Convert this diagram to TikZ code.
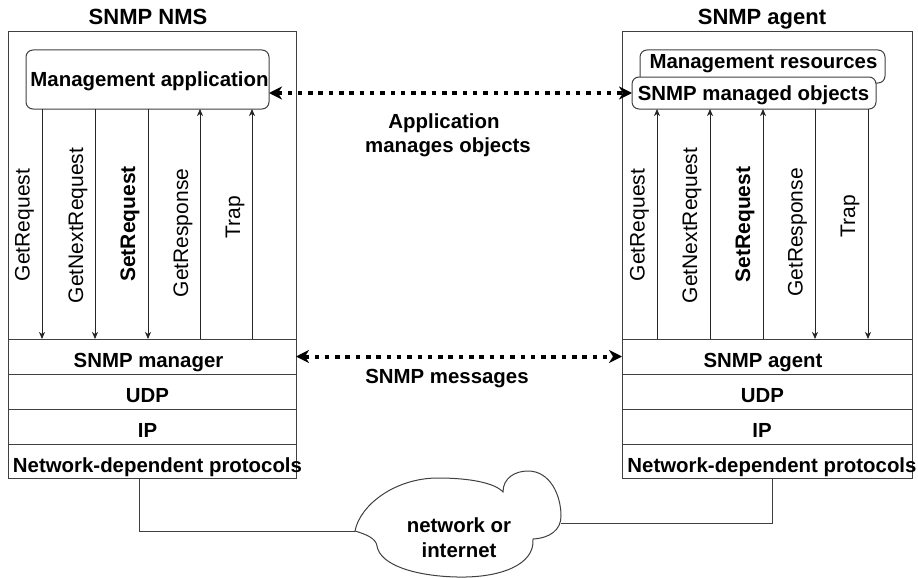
\documentclass[tikz,border=0pt]{standalone}
\usepackage{fontspec}
\setmainfont{Liberation Sans}
\usetikzlibrary{arrows.meta}
\begin{document}
\begin{tikzpicture}[x=1pt,y=-1pt,
  frame/.style={draw=black!75, line width=1pt},
  boxnode/.style={frame, rectangle, inner sep=0pt, outer sep=0pt, anchor=north west},
  rbox/.style={frame, rounded corners=7pt, fill=white, inner sep=0pt, outer sep=0pt, anchor=north west},
  lbl/.style={font=\fontsize{20.4}{25}\bfseries\selectfont, inner sep=0pt, anchor=base},
  ttl/.style={font=\fontsize{22}{26}\bfseries\selectfont, inner sep=0pt, anchor=base},
  vlbl/.style={font=\fontsize{21}{25}\selectfont, inner sep=0pt, rotate=90},
  sig/.style={draw=black!85, line width=0.9pt, -{Stealth[length=7pt,width=6pt,inset=2pt]}},
  dots/.style={line width=4pt, dash pattern=on 4.5pt off 5.8pt,
    {Stealth[length=13pt,width=13pt,inset=4pt]}-{Stealth[length=13pt,width=13pt,inset=4pt]}},
  conn/.style={draw=black!75, line width=1pt}
]
\useasboundingbox (0,0) rectangle (918,578);

% titles
\node[ttl] (t1) at (148,25) {SNMP NMS};
\node[ttl] (t2) at (762,25) {SNMP agent};

% left stack
\node[boxnode, minimum width=288pt, minimum height=446pt] (nms) at (8,32) {};
\node[boxnode, minimum width=288pt, minimum height=35pt] (lmgr) at (8,339) {};
\node[boxnode, minimum width=288pt, minimum height=35pt] (ludp) at (8,374) {};
\node[boxnode, minimum width=288pt, minimum height=35pt] (lip) at (8,409) {};
\node[boxnode, minimum width=288pt, minimum height=34pt] (lndp) at (8,444) {};
\node[lbl] (tlmgr) at (148.5,367) {SNMP manager};
\node[lbl] (tludp) at (147.5,402) {UDP};
\node[lbl] (tlip) at (147.5,437) {IP};
\node[lbl] (tlndp) at (157.5,472) {Network-dependent protocols};

\node[rbox, minimum width=243pt, minimum height=59pt] (mapp) at (26,50) {};
\node[lbl] (tmapp) at (149.5,86) {Management application};

% right stack
\node[boxnode, minimum width=290pt, minimum height=446pt] (agt) at (622,32) {};
\node[boxnode, minimum width=290pt, minimum height=35pt] (ragt) at (622,339) {};
\node[boxnode, minimum width=290pt, minimum height=35pt] (rudp) at (622,374) {};
\node[boxnode, minimum width=290pt, minimum height=35pt] (rip) at (622,409) {};
\node[boxnode, minimum width=290pt, minimum height=34pt] (rndp) at (622,444) {};
\node[lbl] (tragt) at (763,367) {SNMP agent};
\node[lbl] (trudp) at (762.5,402) {UDP};
\node[lbl] (trip) at (762,437) {IP};
\node[lbl] (trndp) at (772,472) {Network-dependent protocols};

\node[rbox, minimum width=245pt, minimum height=33pt] (mres) at (640,50) {};
\node[lbl] (tmres) at (763.5,68) {Management resources};
\node[rbox, minimum width=244pt, minimum height=32pt] (mobj) at (632,77) {};
\node[lbl] (tmobj) at (753.5,100) {SNMP managed objects};

% arrow columns
\coordinate (lx1) at (42,0);
\coordinate (lx2) at (95,0);
\coordinate (lx3) at (148,0);
\coordinate (lx4) at (200,0);
\coordinate (lx5) at (252,0);
\coordinate (rx1) at (657,0);
\coordinate (rx2) at (710,0);
\coordinate (rx3) at (763,0);
\coordinate (rx4) at (815,0);
\coordinate (rx5) at (868,0);

\draw[sig] (mapp.south -| lx1) -- (lmgr.north -| lx1);
\draw[sig] (mapp.south -| lx2) -- (lmgr.north -| lx2);
\draw[sig] (mapp.south -| lx3) -- (lmgr.north -| lx3);
\draw[sig] (lmgr.north -| lx4) -- (mapp.south -| lx4);
\draw[sig] (lmgr.north -| lx5) -- (mapp.south -| lx5);

\draw[sig] (ragt.north -| rx1) -- (mobj.south -| rx1);
\draw[sig] (ragt.north -| rx2) -- (mobj.south -| rx2);
\draw[sig] (ragt.north -| rx3) -- (mobj.south -| rx3);
\draw[sig] (mobj.south -| rx4) -- (ragt.north -| rx4);
\draw[sig] (mobj.south -| rx5) -- (ragt.north -| rx5);

% vertical labels
\node[vlbl] (lv1) at (24.5,225) {GetRequest};
\node[vlbl] (lv2) at (78,225.5) {GetNextRequest};
\node[vlbl, font=\fontsize{21}{25}\bfseries\selectfont] (lv3) at (130,224) {SetRequest};
\node[vlbl] (lv4) at (183,233) {GetResponse};
\node[vlbl] (lv5) at (235,217) {Trap};

\node[vlbl] (rv1) at (639.5,225) {GetRequest};
\node[vlbl] (rv2) at (692,225.5) {GetNextRequest};
\node[vlbl, font=\fontsize{21}{25}\bfseries\selectfont] (rv3) at (745,224.5) {SetRequest};
\node[vlbl] (rv4) at (797.5,232.5) {GetResponse};
\node[vlbl] (rv5) at (850,216) {Trap};

% dotted peer arrows
\draw[dots] (mapp.east |- mobj.west) -- (mobj.west);
\draw[dots] (lmgr.east) -- (ragt.west);
\node[lbl] (app1) at (444,128) {Application};
\node[lbl] (app2) at (448,152) {manages objects};
\node[lbl] (msg) at (447,383) {SNMP messages};

% cloud
\draw[frame, fill=white] (355,531) .. controls (360,505) and (395,478) .. (438,478)
  .. controls (470,478) and (495,483) .. (503,492)
  .. controls (503,478) and (515,471) .. (528,471)
  .. controls (550,471) and (561,495) .. (561,516)
  .. controls (561,530) and (550,538) .. (533,539)
  .. controls (535,565) and (500,578) .. (457,577)
  .. controls (415,576) and (380,565) .. (377,546)
  .. controls (376,538) and (365,534) .. (355,531) -- cycle;
\node[lbl] (net1) at (459,532) {network or};
\node[lbl] (net2) at (459,557) {internet};

\coordinate (lc) at (139,0);
\coordinate (cl) at (355,531);
\coordinate (rc) at (772,0);
\coordinate (cr) at (561,523);
\draw[conn] (lndp.south -| lc) |- (cl);
\draw[conn] (rndp.south -| rc) |- (cr);
\end{tikzpicture}
\end{document}
